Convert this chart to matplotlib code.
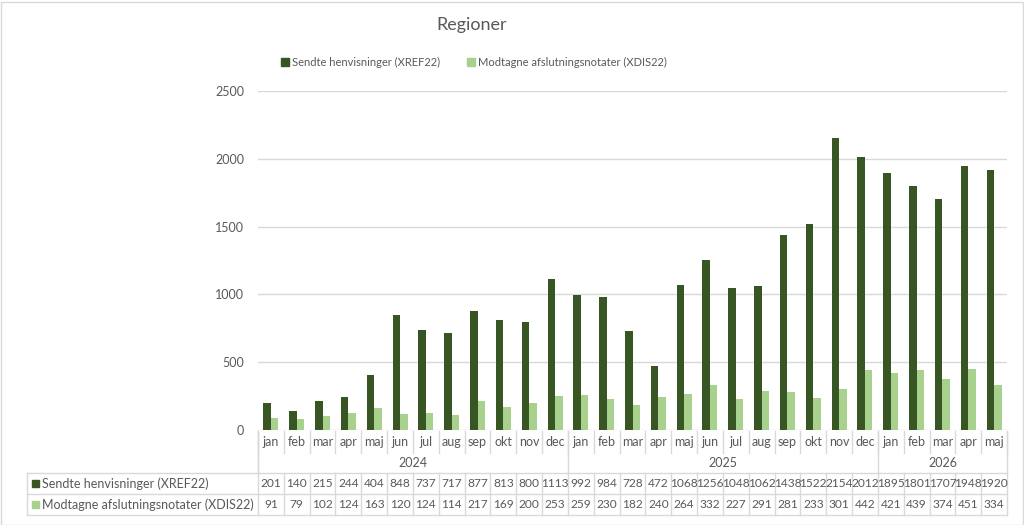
import matplotlib.pyplot as plt
import numpy as np
from matplotlib.transforms import blended_transform_factory
from matplotlib.lines import Line2D
from matplotlib.patches import Rectangle

plt.rcParams['font.family'] = ['Lato', 'DejaVu Sans']

months = ["jan", "feb", "mar", "apr", "maj", "jun", "jul", "aug", "sep", "okt", "nov", "dec",
          "jan", "feb", "mar", "apr", "maj", "jun", "jul", "aug", "sep", "okt", "nov", "dec",
          "jan", "feb", "mar", "apr", "maj"]
years = ["2024", "2025", "2026"]
year_counts = [12, 12, 5]
sendte = [201, 140, 215, 244, 404, 848, 737, 717, 877, 813, 800, 1113,
          992, 984, 728, 472, 1068, 1256, 1048, 1062, 1438, 1522, 2154, 2012,
          1895, 1801, 1707, 1948, 1920]
modtagne = [91, 79, 102, 124, 163, 120, 124, 114, 217, 169, 200, 253,
            259, 230, 182, 240, 264, 332, 227, 291, 281, 233, 301, 442,
            421, 439, 374, 451, 334]
series_names = ["Sendte henvisninger (XREF22)", "Modtagne afslutningsnotater (XDIS22)"]

c_dark = "#375623"
c_light = "#A9D18E"
grid_c = "#D9D9D9"
txt_c = "#595959"

W, H = 1024, 525
fig = plt.figure(figsize=(W / 100, H / 100), dpi=100)
x0, x1, ytop, ybot = 258, 1007, 91, 430
ax = fig.add_axes([x0 / W, 1 - ybot / H, (x1 - x0) / W, (ybot - ytop) / H])

x = np.arange(len(months))
w = 0.29
ax.bar(x - w / 2, sendte, w, color=c_dark, zorder=3)
ax.bar(x + w / 2, modtagne, w, color=c_light, zorder=3)
ax.set_xlim(-0.5, len(months) - 0.5)
ax.set_ylim(0, 2500)
ax.set_yticks(range(0, 2501, 500))
ax.yaxis.grid(True, color=grid_c, linewidth=1)
ax.set_axisbelow(True)
for s in ax.spines.values():
    s.set_visible(False)
ax.tick_params(axis='y', length=0, labelsize=9, labelcolor=txt_c, pad=10)
ax.tick_params(axis='x', length=0, labelbottom=False)

# data table below the axes, in pixel y positions
def py(p):
    return 1 - (p - ytop) / (ybot - ytop)

tr = blended_transform_factory(ax.transData, ax.transAxes)
lk = dict(color=grid_c, linewidth=1, transform=tr, clip_on=False)
tk = dict(transform=tr, clip_on=False, ha='center', va='center', color=txt_c, fontsize=9)
nk = dict(tk, fontsize=8.6)

r_top, r_mon, r_yr, r_s1, r_s2 = 431, 453, 473, 494, 515
for i, m in enumerate(months):
    ax.text(i, py(442), m, **tk)
    ax.text(i, py(483.5), str(sendte[i]), **nk)
    ax.text(i, py(504.5), str(modtagne[i]), **nk)
    ax.add_line(Line2D([i - 0.5, i - 0.5], [py(r_top), py(r_mon)], **lk))
    ax.add_line(Line2D([i - 0.5, i - 0.5], [py(r_yr), py(r_s2)], **lk))
ax.add_line(Line2D([len(months) - 0.5] * 2, [py(r_top), py(r_mon)], **lk))
ax.add_line(Line2D([len(months) - 0.5] * 2, [py(r_yr), py(r_s2)], **lk))

start = 0
for yname, n in zip(years, year_counts):
    ax.text(start + (n - 1) / 2, py(463), yname, **tk)
    ax.add_line(Line2D([start - 0.5] * 2, [py(r_top), py(r_yr)], **lk))
    start += n
ax.add_line(Line2D([start - 0.5] * 2, [py(r_top), py(r_yr)], **lk))

# row label cells (figure pixel coords)
def fl(xa, xb, ya, yb):
    fig.add_artist(Line2D([xa / W, xb / W], [1 - ya / H, 1 - yb / H], color=grid_c, linewidth=1))

fl(27, x1, r_yr, r_yr)
fl(27, x1, r_s1, r_s1)
fl(27, x1, r_s2, r_s2)
fl(27, 27, r_yr, r_s2)
fl(x0, x0, r_top, r_yr)
for yc, name, col in [(483.5, series_names[0], c_dark), (504.5, series_names[1], c_light)]:
    fig.add_artist(Rectangle((32 / W, 1 - (yc + 3.5) / H), 7 / W, 7 / H, color=col))
    fig.text(42 / W, 1 - yc / H, name, ha='left', va='center', color=txt_c, fontsize=9)

fig.text(472 / W, 1 - 25 / H, "Regioner", ha='center', va='center', color=txt_c, fontsize=13)
handles = [Rectangle((0, 0), 1, 1, color=c_dark), Rectangle((0, 0), 1, 1, color=c_light)]
fig.legend(handles, series_names, loc='center', bbox_to_anchor=(474 / W, 1 - 62 / H), ncol=2,
           frameon=False, fontsize=8, labelcolor=txt_c, handlelength=0.7, handleheight=0.7,
           handletextpad=0.3, columnspacing=2.4)

fig.add_artist(Rectangle((0.5 / W, 0.5 / H), (W - 2) / W, (H - 2) / H, fill=False,
                         edgecolor=grid_c, linewidth=1))

plt.savefig("out.png", dpi=100)
